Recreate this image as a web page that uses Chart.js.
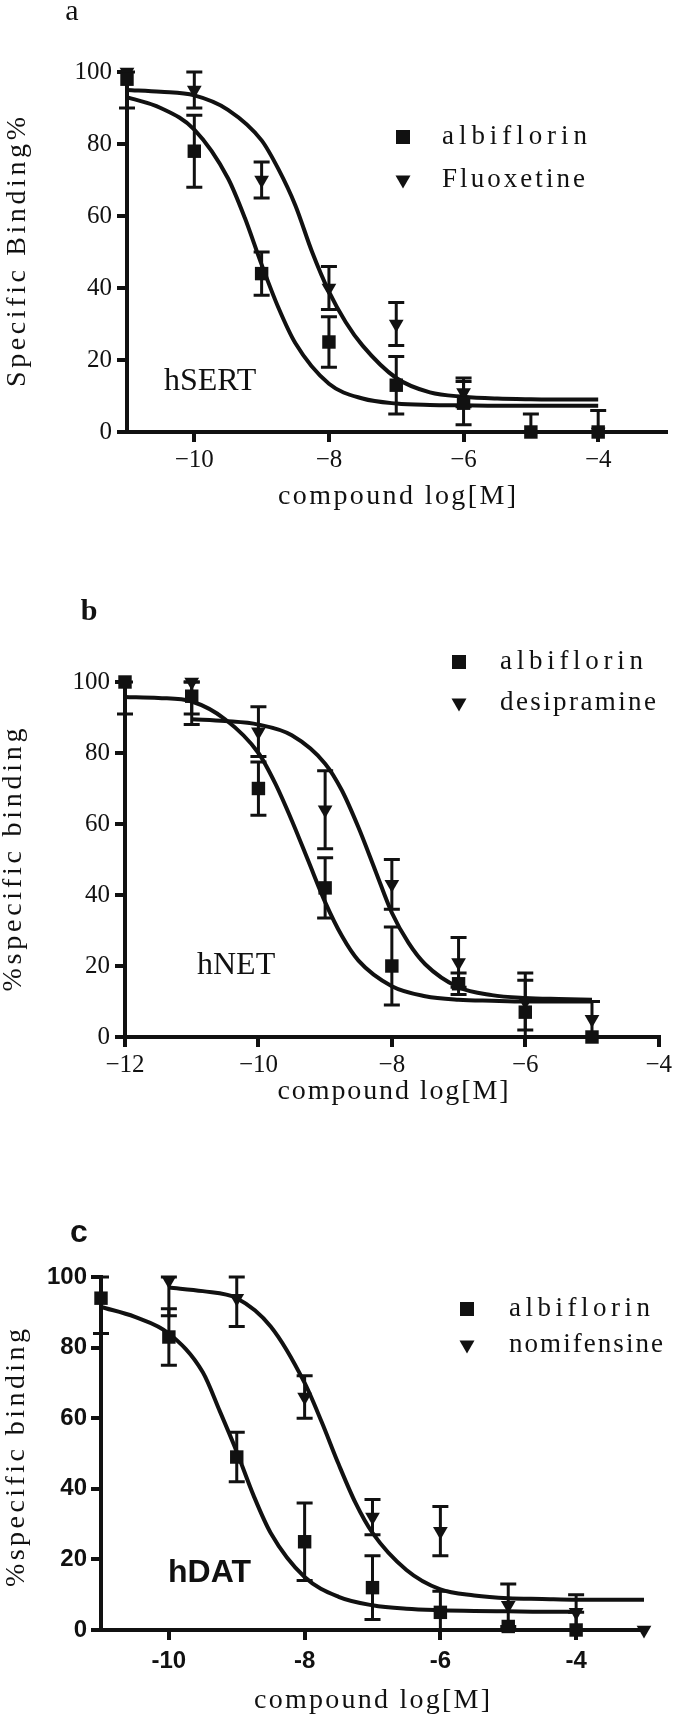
<!DOCTYPE html>
<html>
<head>
<meta charset="utf-8">
<script src="https://cdn.jsdelivr.net/npm/chart.js@4.4.1/dist/chart.umd.min.js"></script>
<style>
  html, body { margin: 0; padding: 0; background: #fff; }
  body { width: 675px; height: 1718px; position: relative; overflow: hidden; }
  .panel { position: absolute; left: 0; width: 675px; }
</style>
</head>
<body>
<div class="panel" style="top:0;height:540px"><canvas id="graficaA"></canvas></div>
<div class="panel" style="top:540px;height:580px"><canvas id="graficaB"></canvas></div>
<div class="panel" style="top:1120px;height:598px"><canvas id="graficaC"></canvas></div>
<script>
// ---- Panel a: hSERT ----
const dosisA = [-11, -10, -9, -8, -7, -6, -5, -4];
const albiflorinA = [98, 78, 44, 25, 13, 8, 0, 0];
const albiflorinErrA = [8, 10, 6, 7, 8, 6, 5, 6];
const dosisFluoxetina = [-11, -10, -9, -8, -7, -6, -4];
const fluoxetina = [100, 95, 70, 40, 30, 11, 0];
const fluoxetinaErr = [0, 5, 5, 6, 6, 4, 0];
const curvaXAlbA = [-11, -10.5, -10, -9.5, -9.25, -9, -8.75, -8.5, -8, -7.5, -7, -6.5, -6, -5.5, -5, -4.5, -4];
const curvaAlbA = [93, 90, 84, 70.5, 59.5, 46.5, 34.5, 24.7, 13.4, 9.3, 7.9, 7.5, 7.4, 7.3, 7.3, 7.3, 7.3];
const curvaXFlu = [-11, -10.5, -10, -9.5, -9, -8.75, -8.5, -8.25, -8, -7.75, -7.5, -7, -6.5, -6, -5.5, -5, -4.5, -4];
const curvaFlu = [95, 94.5, 93.5, 89.5, 81, 73, 63, 50, 39, 30.5, 24, 15, 11, 9.8, 9.3, 9.1, 9, 9];
const ticksXA = [-10, -8, -6, -4];
const etiquetasXA = ['\u221210', '\u22128', '\u22126', '\u22124'];

// ---- Panel b: hNET ----
const dosisB = [-12, -11, -10, -9, -8, -7, -6, -5];
const albiflorinB = [100, 96, 70, 42, 20, 15, 7, 0];
const albiflorinErrB = [9, 8, 7.5, 8.5, 11, 3, 9, 0];
const dosisDesipramina = [-11, -10, -9, -8, -7, -6, -5];
const desipramina = [100, 86, 64, 43, 21, 10, 5];
const desipraminaErr = [9, 7, 11, 7, 7, 8, 5];
const curvaXAlbB = [-12, -11.5, -11, -10.5, -10, -9.75, -9.5, -9.25, -9, -8.75, -8.5, -8, -7.5, -7, -6.5, -6, -5.5, -5];
const curvaAlbB = [95.8, 95.5, 94.5, 89.5, 80, 71.5, 61, 49.5, 38, 28.5, 21.5, 14.3, 11.5, 10.5, 10.2, 10, 10, 10];
const curvaXDes = [-11, -10.5, -10, -9.5, -9, -8.75, -8.5, -8.25, -8, -7.75, -7.5, -7, -6.5, -6, -5.5, -5];
const curvaDes = [89.5, 89, 88, 85, 77, 69.5, 59, 47, 35, 26.5, 20.5, 14, 11.8, 11, 10.7, 10.5];
const ticksXB = [-12, -10, -8, -6, -4];
const etiquetasXB = ['\u221212', '\u221210', '\u22128', '\u22126', '\u22124'];

// ---- Panel c: hDAT ----
const dosisC = [-11, -10, -9, -8, -7, -6, -5, -4];
const albiflorinC = [94, 83, 49, 25, 12, 5, 1, 0];
const albiflorinErrC = [10, 8, 7, 11, 9, 6, 0, 5];
const dosisNomifensina = [-10, -9, -8, -7, -6, -5, -4, -3];
const nomifensina = [99, 94, 66, 32, 28, 7, 5, 0];
const nomifensinaErr = [10, 8, 6, 5, 7, 6, 5, 0];
const curvaXAlbC = [-11, -10.5, -10, -9.5, -9.25, -9, -8.75, -8.5, -8, -7.5, -7, -6.5, -6, -5.5, -5, -4.5, -4];
const curvaAlbC = [91.5, 88.7, 84, 73, 62, 50.5, 38, 27.5, 15, 9.4, 7, 6, 5.6, 5.4, 5.3, 5.2, 5.2];
const curvaXNom = [-10, -9.5, -9, -8.5, -8, -7.75, -7.5, -7.25, -7, -6.5, -6, -5.5, -5, -4.5, -4, -3.5, -3];
const curvaNom = [97, 96, 94, 86, 70, 59, 47, 36, 27.5, 17, 11.5, 9.8, 9, 8.8, 8.6, 8.6, 8.6];
const ticksXC = [-10, -8, -6, -4];
const etiquetasXC = ['-10', '-8', '-6', '-4'];

// eje y comun
const ticksY = [0, 20, 40, 60, 80, 100];
const etiquetasY = ['0', '20', '40', '60', '80', '100'];

const NEGRO = '#111';
const SERIF = '"Liberation Serif", "DejaVu Serif", serif';
const SANS = '"Liberation Sans", Arial, sans-serif';

function pares(xs, ys) {
    return xs.map((x, i) => ({ x: x, y: ys[i] }));
}

function puntos(label, xs, ys, errs, estilo) {
    return {
        label: label,
        data: pares(xs, ys),
        errores: errs,
        pointStyle: estilo,
        pointRotation: estilo === 'triangle' ? 180 : 0,
        pointRadius: estilo === 'rect' ? 9.5 : 8.5,
        pointHoverRadius: 0,
        backgroundColor: NEGRO,
        borderColor: NEGRO,
        borderWidth: 0,
        showLine: false,
        clip: false
    };
}

function curva(xs, ys) {
    return {
        label: '',
        data: pares(xs, ys),
        showLine: true,
        borderColor: NEGRO,
        borderWidth: 4,
        pointRadius: 0,
        cubicInterpolationMode: 'monotone',
        fill: false,
        clip: false
    };
}

// barras de error (recortadas a 0..100 como en el original)
const barrasError = {
    id: 'barrasError',
    beforeDatasetsDraw(chart) {
        const ctx = chart.ctx;
        const ex = chart.scales.x, ey = chart.scales.y;
        ctx.save();
        ctx.strokeStyle = NEGRO;
        ctx.lineWidth = 3;
        chart.data.datasets.forEach(ds => {
            if (!ds.errores) return;
            ds.data.forEach((p, i) => {
                const e = ds.errores[i];
                if (!e) return;
                const px = ex.getPixelForValue(p.x);
                const y1 = ey.getPixelForValue(Math.min(p.y + e, 100));
                const y2 = ey.getPixelForValue(Math.max(p.y - e, 0));
                ctx.beginPath();
                ctx.moveTo(px, y1); ctx.lineTo(px, y2);
                ctx.moveTo(px - 8, y1); ctx.lineTo(px + 8, y1);
                ctx.moveTo(px - 8, y2); ctx.lineTo(px + 8, y2);
                ctx.stroke();
            });
        });
        ctx.restore();
    }
};

// texto con el espaciado ancho de la fuente original
function espaciado(ctx, texto, x, y, ancho) {
    const letras = Array.from(texto);
    const anchos = letras.map(c => ctx.measureText(c).width);
    const natural = anchos.reduce((a, b) => a + b, 0);
    const extra = letras.length > 1 ? (ancho - natural) / (letras.length - 1) : 0;
    let cx = x;
    ctx.textAlign = 'left';
    letras.forEach((c, i) => {
        ctx.fillText(c, cx, y);
        cx += anchos[i] + extra;
    });
}

function marcador(ctx, estilo, x, y) {
    ctx.beginPath();
    if (estilo === 'rect') {
        ctx.rect(x - 7, y - 7, 14, 14);
    } else {
        ctx.moveTo(x - 7.5, y - 4.5);
        ctx.lineTo(x + 7.5, y - 4.5);
        ctx.lineTo(x, y + 8.5);
        ctx.closePath();
    }
    ctx.fill();
}

function textosPanel(cfg) {
    return {
        id: 'textos',
        afterDraw(chart) {
            const ctx = chart.ctx;
            ctx.save();
            ctx.fillStyle = NEGRO;
            ctx.textBaseline = 'middle';

            // letra del panel
            ctx.font = cfg.etiqueta.fuente;
            ctx.textAlign = 'center';
            ctx.fillText(cfg.etiqueta.texto, cfg.etiqueta.x, cfg.etiqueta.y);

            // titulos de ejes
            ctx.font = '28px ' + SERIF;
            espaciado(ctx, 'compound log[M]', cfg.tituloX.x - cfg.tituloX.ancho / 2, cfg.tituloX.y, cfg.tituloX.ancho);
            ctx.save();
            ctx.translate(cfg.tituloY.x, cfg.tituloY.y);
            ctx.rotate(-Math.PI / 2);
            espaciado(ctx, cfg.tituloY.texto, -cfg.tituloY.ancho / 2, 0, cfg.tituloY.ancho);
            ctx.restore();

            // leyenda con los dos conjuntos de puntos
            ctx.font = '27px ' + SERIF;
            chart.data.datasets.filter(ds => ds.errores).forEach((ds, i) => {
                const y = cfg.leyenda.filas[i];
                marcador(ctx, ds.pointStyle, cfg.leyenda.x, y);
                espaciado(ctx, ds.label, cfg.leyenda.xTexto, y, cfg.leyenda.anchos[i]);
            });

            // nombre del transportador
            ctx.font = cfg.rotulo.fuente;
            ctx.textAlign = 'left';
            ctx.fillText(cfg.rotulo.texto, cfg.rotulo.x, cfg.rotulo.y);
            ctx.restore();
        }
    };
}

function crearGrafica(id, p) {
    const fuenteTicks = p.negrita
        ? { family: SANS, size: 24, weight: 'bold' }
        : { family: SERIF, size: 25 };
    new Chart(document.getElementById(id), {
        type: 'scatter',
        data: { datasets: p.datasets },
        options: {
            responsive: true,
            maintainAspectRatio: false,
            animation: false,
            events: [],
            layout: { padding: { left: 0, right: p.derecha, top: p.arriba, bottom: 0 } },
            plugins: { legend: { display: false }, tooltip: { enabled: false }, title: { display: false } },
            scales: {
                x: {
                    type: 'linear',
                    min: p.xMin,
                    max: p.xMax,
                    afterFit: s => { s.height = p.altoX; },
                    afterBuildTicks: s => { s.ticks = p.ticksX.map(v => ({ value: v })); },
                    ticks: {
                        callback: v => p.etiquetasX[p.ticksX.indexOf(v)],
                        font: fuenteTicks,
                        color: NEGRO,
                        padding: p.negrita ? 7 : 3,
                        maxRotation: 0,
                        autoSkip: false
                    },
                    grid: { drawOnChartArea: false, drawTicks: true, tickLength: 10, lineWidth: 4, color: NEGRO },
                    border: { display: true, width: 4, color: NEGRO }
                },
                y: {
                    type: 'linear',
                    min: 0,
                    max: 100,
                    afterFit: s => { s.width = p.anchoY; },
                    afterBuildTicks: s => { s.ticks = ticksY.map(v => ({ value: v })); },
                    ticks: {
                        callback: v => etiquetasY[ticksY.indexOf(v)],
                        font: fuenteTicks,
                        color: NEGRO,
                        padding: p.negrita ? 4 : 5
                    },
                    grid: { drawOnChartArea: false, drawTicks: true, tickLength: 10, lineWidth: 4, color: NEGRO },
                    border: { display: true, width: 4, color: NEGRO }
                }
            }
        },
        plugins: [barrasError, textosPanel(p.textos)]
    });
}

crearGrafica('graficaA', {
    xMin: -11, xMax: -3, ticksX: ticksXA, etiquetasX: etiquetasXA,
    arriba: 72, derecha: 8, anchoY: 127, altoX: 108,
    datasets: [
        puntos('albiflorin', dosisA, albiflorinA, albiflorinErrA, 'rect'),
        puntos('Fluoxetine', dosisFluoxetina, fluoxetina, fluoxetinaErr, 'triangle'),
        curva(curvaXAlbA, curvaAlbA),
        curva(curvaXFlu, curvaFlu)
    ],
    textos: {
        etiqueta: { texto: 'a', x: 72, y: 12, fuente: '30px ' + SERIF },
        tituloX: { x: 397, y: 497, ancho: 238 },
        tituloY: { texto: 'Specific Binding%', x: 18, y: 252, ancho: 270 },
        leyenda: { x: 403, xTexto: 442, filas: [137, 180], anchos: [145, 143] },
        rotulo: { texto: 'hSERT', x: 164, y: 382, fuente: '32px ' + SERIF }
    }
});

crearGrafica('graficaB', {
    xMin: -12, xMax: -4, ticksX: ticksXB, etiquetasX: etiquetasXB,
    arriba: 142, derecha: 13, anchoY: 125, altoX: 83,
    datasets: [
        puntos('albiflorin', dosisB, albiflorinB, albiflorinErrB, 'rect'),
        puntos('desipramine', dosisDesipramina, desipramina, desipraminaErr, 'triangle'),
        curva(curvaXAlbB, curvaAlbB),
        curva(curvaXDes, curvaDes)
    ],
    textos: {
        etiqueta: { texto: 'b', x: 89, y: 72, fuente: 'bold 30px ' + SERIF },
        tituloX: { x: 393, y: 552, ancho: 231 },
        tituloY: { texto: '%specific binding', x: 14, y: 320, ancho: 263 },
        leyenda: { x: 459, xTexto: 500, filas: [122, 163], anchos: [143, 156] },
        rotulo: { texto: 'hNET', x: 197, y: 426, fuente: '32px ' + SERIF }
    }
});

crearGrafica('graficaC', {
    xMin: -11, xMax: -3, ticksX: ticksXC, etiquetasX: etiquetasXC, negrita: true,
    arriba: 157, derecha: 31, anchoY: 101, altoX: 88,
    datasets: [
        puntos('albiflorin', dosisC, albiflorinC, albiflorinErrC, 'rect'),
        puntos('nomifensine', dosisNomifensina, nomifensina, nomifensinaErr, 'triangle'),
        curva(curvaXAlbC, curvaAlbC),
        curva(curvaXNom, curvaNom)
    ],
    textos: {
        etiqueta: { texto: 'c', x: 79, y: 113, fuente: 'bold 32px ' + SANS },
        tituloX: { x: 372, y: 581, ancho: 236 },
        tituloY: { texto: '%specific binding', x: 17, y: 338, ancho: 258 },
        leyenda: { x: 467, xTexto: 509, filas: [189, 225], anchos: [141, 154] },
        rotulo: { texto: 'hDAT', x: 168, y: 453, fuente: 'bold 32px ' + SANS }
    }
});
</script>
</body>
</html>
